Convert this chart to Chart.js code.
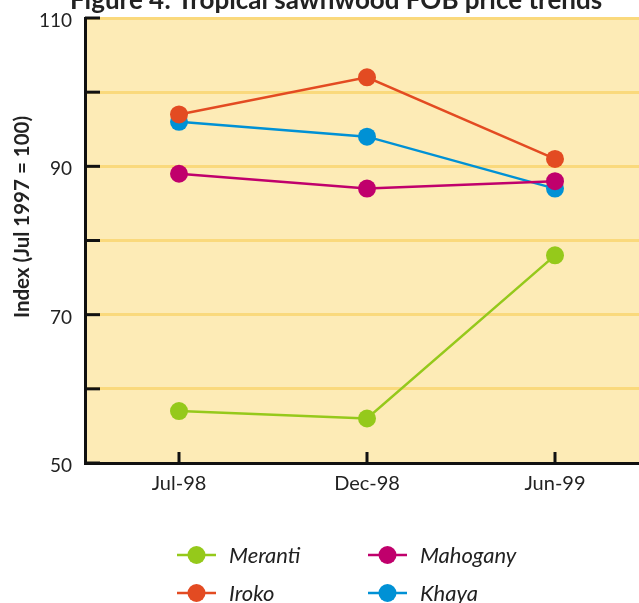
<!DOCTYPE html>
<html>
<head>
<meta charset="utf-8">
<script src="https://cdn.jsdelivr.net/npm/chart.js@4"></script>
<style>
  html, body { margin: 0; padding: 0; background: #ffffff; overflow: hidden; }
  #wrap { position: absolute; left: 0; top: 0; width: 658px; height: 603px; }
</style>
</head>
<body>
<div id="wrap"><canvas id="c" width="658" height="603"></canvas></div>
<script>
// Tropical sawnwood FOB price index, Jul 1997 = 100
const periods = ['Jul-98', 'Dec-98', 'Jun-99'];
const meranti = [57, 56, 78];
const iroko = [97, 102, 91];
const mahogany = [89, 87, 88];
const khaya = [96, 94, 87];
const seriesNames = ['Meranti', 'Iroko', 'Mahogany', 'Khaya'];
const seriesColors = ['#95c91b', '#e34b22', '#c0006c', '#0091d5'];
const yTickLabels = [50, 70, 90, 110];

const FONT = 'Lato, "Noto Sans", sans-serif';
const INK = '#222222';

function series(i, values) {
  return {
    label: seriesNames[i],
    data: values,
    borderColor: seriesColors[i],
    backgroundColor: seriesColors[i],
    borderWidth: 2.5,
    pointRadius: 9,
    pointHoverRadius: 9,
    pointBorderWidth: 0,
    tension: 0
  };
}

// plot background, inward tick marks, title, axis title and legend
const decor = {
  id: 'decor',
  beforeDraw(chart) {
    const { ctx, chartArea: a } = chart;
    ctx.save();
    ctx.fillStyle = '#fdebb6';
    ctx.fillRect(a.left, a.top, a.right - a.left, a.bottom - a.top);
    ctx.restore();
  },
  afterDatasetsDraw(chart) {
    const { ctx, chartArea: a, scales } = chart;
    ctx.save();
    ctx.strokeStyle = '#111111';
    ctx.lineWidth = 3;
    ctx.lineCap = 'butt';
    scales.y.ticks.forEach((t, i) => {
      const y = scales.y.getPixelForTick(i);
      ctx.beginPath();
      ctx.moveTo(a.left, y);
      ctx.lineTo(a.left + 15, y);
      ctx.stroke();
    });
    scales.x.ticks.forEach((t, i) => {
      const x = scales.x.getPixelForTick(i);
      ctx.beginPath();
      ctx.moveTo(x, a.bottom);
      ctx.lineTo(x, a.bottom - 11);
      ctx.stroke();
    });

    // figure title (partly above the top edge)
    ctx.fillStyle = INK;
    ctx.font = 'bold 26px ' + FONT;
    ctx.textAlign = 'center';
    ctx.textBaseline = 'alphabetic';
    ctx.fillText('Figure 4: Tropical sawnwood FOB price trends', 336, 9);

    // y-axis title
    ctx.save();
    ctx.translate(22, 217);
    ctx.rotate(-Math.PI / 2);
    ctx.font = 'bold 20.5px ' + FONT;
    ctx.textBaseline = 'middle';
    ctx.fillText('Index (Jul 1997 = 100)', 0, 0);
    ctx.restore();

    // legend: two columns, two rows
    const order = [0, 2, 1, 3];
    order.forEach((si, k) => {
      const col = k % 2, row = Math.floor(k / 2);
      const x0 = col === 0 ? 177 : 368;
      const y0 = row === 0 ? 555 : 593;
      ctx.strokeStyle = seriesColors[si];
      ctx.fillStyle = seriesColors[si];
      ctx.lineWidth = 2.5;
      ctx.beginPath();
      ctx.moveTo(x0, y0);
      ctx.lineTo(x0 + 39, y0);
      ctx.stroke();
      ctx.beginPath();
      ctx.arc(x0 + 19.5, y0, 9, 0, Math.PI * 2);
      ctx.fill();
      ctx.fillStyle = INK;
      ctx.font = 'italic 22px ' + FONT;
      ctx.textAlign = 'left';
      ctx.textBaseline = 'middle';
      ctx.fillText(seriesNames[si], x0 + 52, y0 + 1);
    });
    ctx.restore();
  }
};

new Chart(document.getElementById('c'), {
  type: 'line',
  data: {
    labels: periods,
    datasets: [
      series(0, meranti),
      series(1, iroko),
      series(2, mahogany),
      series(3, khaya)
    ]
  },
  options: {
    responsive: false,
    animation: false,
    events: [],
    layout: { padding: { top: 18, right: 1, bottom: 110, left: 0 } },
    plugins: {
      legend: { display: false },
      title: { display: false },
      tooltip: { enabled: false }
    },
    scales: {
      x: {
        type: 'category',
        offset: true,
        afterFit(s) { s.height = 30; s.paddingLeft = 0; s.paddingRight = 0; },
        grid: { display: false, drawTicks: false },
        border: { display: true, color: '#111111', width: 3 },
        ticks: { color: INK, font: { family: FONT, size: 20 }, padding: 9 }
      },
      y: {
        min: 50,
        max: 110,
        afterFit(s) { s.width = 85; s.paddingTop = 0; s.paddingBottom = 0; },
        grid: { color: '#fad97c', lineWidth: 3, drawTicks: false },
        border: { display: true, color: '#111111', width: 3 },
        ticks: {
          stepSize: 10,
          color: INK,
          font: { family: FONT, size: 19 },
          padding: 13,
          labelOffset: 3,
          callback: v => yTickLabels.includes(v) ? String(v) : ''
        }
      }
    }
  },
  plugins: [decor]
});
</script>
</body>
</html>
